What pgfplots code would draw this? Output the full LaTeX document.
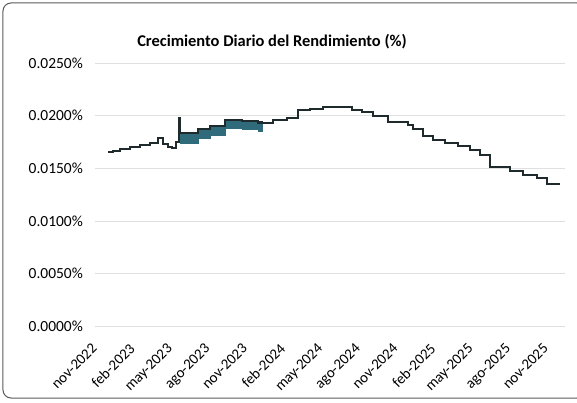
\documentclass[border=0pt]{standalone}
\usepackage{fontspec}
\setmainfont{Carlito}
\usepackage{pgfplots}
\pgfplotsset{compat=1.18}
\definecolor{lineC}{HTML}{1E2A2C}
\definecolor{bandC}{HTML}{2F6B7A}
\begin{document}
\begin{tikzpicture}
\useasboundingbox (-95bp,-77bp) rectangle (482bp,326bp);
\draw[gray!70!black, line width=1bp, rounded corners=8bp] (-92bp,-72bp) rectangle (490bp,323bp);
\begin{axis}[
  at={(0,0)}, anchor=south west,
  scale only axis, width=470bp, height=263bp,
  xmin=-0.4, xmax=37.1, ymin=0, ymax=0.025,
  scaled y ticks=false,
  xtick={0,3,...,36},
  xticklabels={nov-2022,feb-2023,may-2023,ago-2023,nov-2023,feb-2024,may-2024,ago-2024,nov-2024,feb-2025,may-2025,ago-2025,nov-2025},
  ytick={0,0.005,0.01,0.015,0.02,0.025},
  yticklabels={0.0000\%,0.0050\%,0.0100\%,0.0150\%,0.0200\%,0.0250\%},
  ymajorgrids, grid style={gray!25, line width=0.6bp},
  axis line style={draw=none}, major tick length=0pt,
  x tick label style={rotate=45, anchor=north east, inner sep=0pt, xshift=-18bp, yshift=-5bp, font=\fontsize{15}{15}\selectfont},
  y tick label style={font=\fontsize{15.5}{15.5}\selectfont, inner sep=0pt, xshift=-12bp},
  /pgf/number format/assume math mode=true,
]
\addplot[fill=bandC, draw=bandC, line width=0.8bp] coordinates {
(6.40,0.01835)(7.82,0.01835)(7.82,0.01873)(8.78,0.01873)(8.78,0.01901)(9.98,0.01901)(9.98,0.01958)(11.33,0.01958)(11.33,0.01945)(12.61,0.01945)(12.61,0.01935)(12.93,0.01935)
(12.93,0.01854)(12.61,0.01854)(12.61,0.01868)(11.33,0.01868)(11.33,0.01882)(9.98,0.01882)(9.98,0.01816)(8.78,0.01816)(8.78,0.01787)(7.82,0.01787)(7.82,0.01740)(6.40,0.01740)} --cycle;
\addplot[const plot, lineC, line width=2.2bp] coordinates {
(0.64,0.01654) (1.04,0.01666) (1.60,0.01683) (2.40,0.01700) (3.19,0.01721) (3.99,0.01740)
(4.63,0.01787) (5.03,0.01730) (5.40,0.01702) (5.75,0.01692) (6.07,0.01749) (6.30,0.01977)
(6.40,0.01835) (7.82,0.01873) (8.78,0.01901) (9.98,0.01958) (11.33,0.01945) (12.61,0.01935)
(12.93,0.01930) (13.81,0.01958) (14.92,0.01977) (15.80,0.02053) (16.76,0.02063) (17.80,0.02082)
(19.15,0.02085) (20.11,0.02053) (20.91,0.02034) (21.79,0.01996) (22.98,0.01939) (24.58,0.01911)
(24.98,0.01873) (25.78,0.01807) (26.58,0.01768) (27.53,0.01740) (28.57,0.01711) (29.53,0.01673)
(30.33,0.01626) (31.13,0.01511) (32.72,0.01473) (33.76,0.01435) (34.88,0.01407) (35.67,0.01350)
(36.71,0.01350)};
\end{axis}
\node[font=\bfseries\fontsize{16.5}{16.5}\selectfont] at (177bp,284bp) {Crecimiento Diario del Rendimiento (\%)};
\end{tikzpicture}
\end{document}
